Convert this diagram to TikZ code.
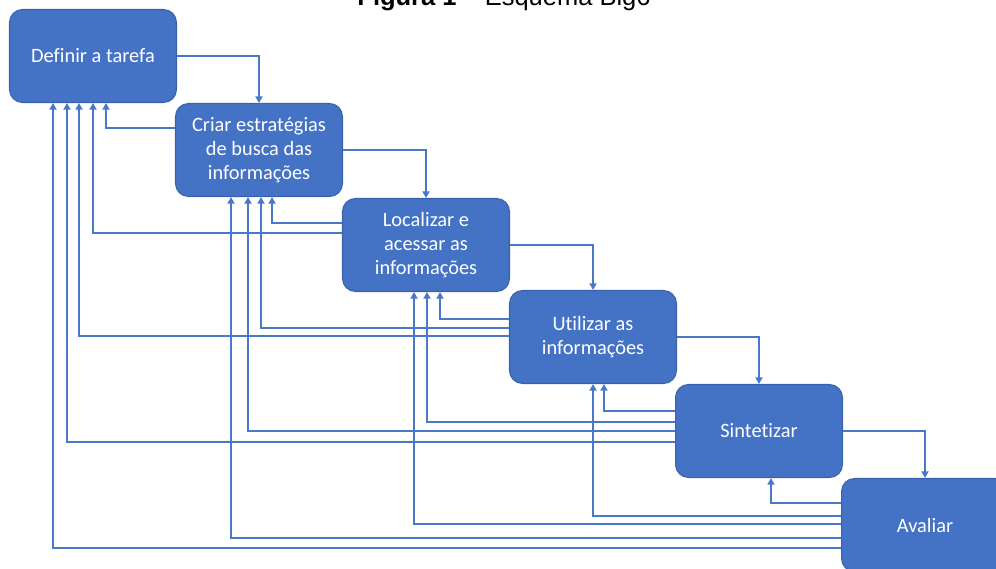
\documentclass[tikz,border=0pt]{standalone}
\usepackage{fontspec}
\setmainfont{Carlito}[Ligatures=NoCommon]
\newfontfamily\titlefont{Liberation Sans}
\usetikzlibrary{positioning,arrows.meta}
\definecolor{bigblue}{HTML}{4472C4}
\definecolor{bigedge}{HTML}{3A62AC}
\definecolor{bigline}{HTML}{4A78C8}
\tikzset{stage/.style={shape=rectangle,rounded corners=0.26cm,fill=bigblue,
        draw=bigedge,line width=0.6pt,minimum width=3.34cm,minimum height=1.86cm,
        inner sep=0pt,align=center,text=white,
        font=\fontsize{11.6}{13.7}\selectfont},
        flow/.style={draw=bigline,line width=1.1pt,
        -{Triangle[length=3.8pt,width=4pt]}}}
%% feedback line: from box #1 (left side, at height #2) back to box #3 (bottom, at #4)
\newcommand{\feedback}[4]{%
  \draw[flow] (#1.west |- 0,#2) -| (#3.south -| #4,0);}

\begin{document}
\begin{tikzpicture}[x=0.02cm,y=-0.02cm]
  \useasboundingbox (0,0) rectangle (996,568);
  \clip (0,0) rectangle (996,568);
  %% title
  \node[anchor=base,inner sep=0pt,font=\titlefont\fontsize{14.5}{17}\selectfont]
       (titulo) at (504,6) {\textbf{Figura 1} – Esquema Big6};
  %% stages
  \node[stage] (definir)    at (93,56)  {Definir a tarefa};
  \node[stage] (criar)      at (259,150) {Criar estratégias\\de busca das\\informações};
  \node[stage] (localizar)  at (426,245) {Localizar e\\acessar as\\informações};
  \node[stage] (utilizar)   at (593,337) {Utilizar as\\informações};
  \node[stage] (sintetizar) at (759,431) {Sintetizar};
  \node[stage] (avaliar)    at (925,525) {Avaliar};
  %% forward
  \draw[flow] (definir.east)    -| (criar.north);
  \draw[flow] (criar.east)      -| (localizar.north);
  \draw[flow] (localizar.east)  -| (utilizar.north);
  \draw[flow] (utilizar.east)   -| (sintetizar.north);
  \draw[flow] (sintetizar.east) -| (avaliar.north);
  %% back to earlier stages
  \feedback{criar}{128}{definir}{106}
  \feedback{localizar}{223}{criar}{272}
  \feedback{localizar}{233}{definir}{93}
  \feedback{utilizar}{319}{localizar}{440}
  \feedback{utilizar}{328}{criar}{261}
  \feedback{utilizar}{336}{definir}{79}
  \feedback{sintetizar}{411}{utilizar}{604}
  \feedback{sintetizar}{422}{localizar}{427}
  \feedback{sintetizar}{431}{criar}{248}
  \feedback{sintetizar}{442}{definir}{67}
  \feedback{avaliar}{503}{sintetizar}{771}
  \feedback{avaliar}{516}{utilizar}{593}
  \feedback{avaliar}{524}{localizar}{414}
  \feedback{avaliar}{538}{criar}{231}
  \feedback{avaliar}{548}{definir}{53}
\end{tikzpicture}
\end{document}
